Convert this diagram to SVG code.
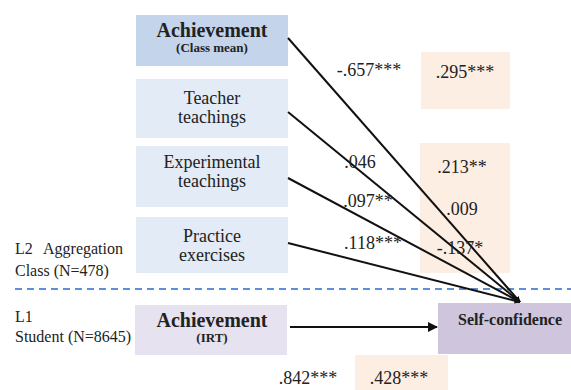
<svg xmlns="http://www.w3.org/2000/svg" width="571" height="390" viewBox="0 0 571 390">
<defs>
<style>
text{font-family:'Liberation Serif','DejaVu Serif',serif;fill:#222;}
.n{font-size:18px;}
.lbl{font-size:16px;}
.bt{font-size:20px;font-weight:bold;}
.bs{font-size:13px;font-weight:bold;}
.line{stroke:#111;stroke-width:2;fill:none;}
.l2{fill:#e3ebf6;}
.org{fill:#fdeee3;}
</style>
<marker id="ah" viewBox="0 0 10 10" refX="9" refY="5" markerWidth="6" markerHeight="6" orient="auto" markerUnits="userSpaceOnUse">
<path d="M0,0 L10,5 L0,10 z" fill="#111"/>
</marker>
<marker id="ah2" viewBox="0 0 10 10" refX="9" refY="5" markerWidth="12" markerHeight="10" orient="auto" markerUnits="userSpaceOnUse">
<path d="M0,0 L10,5 L0,10 z" fill="#111"/>
</marker>
</defs>

<g id="coef-bg">
<rect class="org" x="421" y="52" width="89" height="57"/>
<rect class="org" x="420" y="143" width="90" height="130"/>
<rect class="org" x="355" y="355" width="93" height="35"/>
</g>

<line x1="15" y1="289" x2="571" y2="289" stroke="#5b8fd8" stroke-width="2" stroke-dasharray="7,5"/>

<g id="level-labels" font-family="Liberation Serif, serif">
<text class="lbl" x="15" y="254">L2<tspan x="43">Aggregation</tspan></text>
<text class="lbl" x="15" y="276">Class (N=478)</text>
<text class="lbl" x="15" y="322">L1</text>
<text class="lbl" x="15" y="342">Student (N=8645)</text>
</g>

<g id="achievement-class">
<rect x="136" y="15" width="152" height="51" fill="#c4d5eb"/>
<text class="bt" x="212" y="37" text-anchor="middle">Achievement</text>
<text class="bs" x="212" y="52" text-anchor="middle">(Class mean)</text>
</g>

<g id="teacher-teachings">
<rect class="l2" x="136" y="79" width="152" height="59"/>
<text class="n" x="212" y="104" text-anchor="middle">Teacher</text>
<text class="n" x="212" y="123" text-anchor="middle">teachings</text>
</g>

<g id="experimental-teachings">
<rect class="l2" x="136" y="146" width="152" height="61"/>
<text class="n" x="212" y="168" text-anchor="middle">Experimental</text>
<text class="n" x="212" y="187" text-anchor="middle">teachings</text>
</g>

<g id="practice-exercises">
<rect class="l2" x="136" y="217" width="152" height="56"/>
<text class="n" x="212" y="242" text-anchor="middle">Practice</text>
<text class="n" x="212" y="261" text-anchor="middle">exercises</text>
</g>

<g id="achievement-irt">
<rect x="135" y="305" width="152" height="50" fill="#e7e2ef"/>
<text class="bt" x="212" y="327" text-anchor="middle">Achievement</text>
<text class="bs" x="212" y="342" text-anchor="middle">(IRT)</text>
</g>

<g id="self-confidence">
<rect x="438" y="303" width="133" height="51" fill="#cfc6de"/>
<text x="510" y="325" text-anchor="middle" font-size="16" font-weight="bold">Self-confidence</text>
</g>

<g id="connectors">
<line class="line" x1="288" y1="38" x2="520" y2="302" marker-end="url(#ah)"/>
<line class="line" x1="288" y1="112" x2="520" y2="302" marker-end="url(#ah)"/>
<line class="line" x1="288" y1="178" x2="520" y2="302" marker-end="url(#ah)"/>
<line class="line" x1="288" y1="243" x2="520" y2="302" marker-end="url(#ah)"/>
<line class="line" x1="290" y1="327" x2="437" y2="327" marker-end="url(#ah2)"/>
</g>

<g id="coefficients">
<text class="n" x="369" y="76" text-anchor="middle">-.657***</text>
<text class="n" x="465" y="78" text-anchor="middle">.295***</text>
<text class="n" x="360" y="168" text-anchor="middle">.046</text>
<text class="n" x="368" y="207" text-anchor="middle">.097**</text>
<text class="n" x="373" y="249" text-anchor="middle">.118***</text>
<text class="n" x="462" y="173" text-anchor="middle">.213**</text>
<text class="n" x="462" y="215" text-anchor="middle">.009</text>
<text class="n" x="460" y="254" text-anchor="middle">-.137*</text>
<text class="n" x="308" y="384" text-anchor="middle">.842***</text>
<text class="n" x="399" y="384" text-anchor="middle">.428***</text>
</g>
</svg>
